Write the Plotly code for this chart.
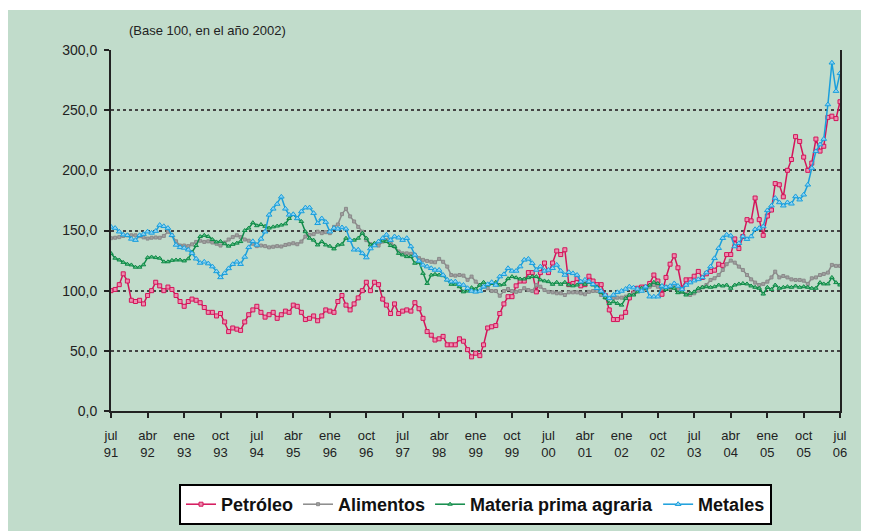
import pandas as pd
import plotly.graph_objects as go

# Monthly index, jul 1991 .. jul 2006
START_MONTH = "1991-07-01"
N_MONTHS = 181

TICK_LABELS = ["jul<br>91", "abr<br>92", "ene<br>93", "oct<br>93", "jul<br>94", "abr<br>95",
               "ene<br>96", "oct<br>96", "jul<br>97", "abr<br>98", "ene<br>99", "oct<br>99",
               "jul<br>00", "abr<br>01", "ene<br>02", "oct<br>02", "jul<br>03", "abr<br>04",
               "ene<br>05", "oct<br>05", "jul<br>06"]

Y_TICKS = [0, 50, 100, 150, 200, 250, 300]
Y_TICK_LABELS = ["0,0", "50,0", "100,0", "150,0", "200,0", "250,0", "300,0"]

PETROLEO = [100, 101, 105, 114, 108, 92, 91, 92, 89, 96, 100, 107, 104, 100, 103, 101, 96, 91, 87, 91,
            93, 92, 90, 86, 82, 82, 79, 81, 74, 66, 69, 68, 67, 74, 80, 84, 87, 82, 78, 80,
            82, 77, 80, 83, 82, 88, 87,
            82, 76, 77, 79, 75, 79, 84, 83, 82, 91, 96, 88, 84, 89, 94, 100, 107, 100, 107, 105,
            93, 88, 81, 89, 81, 83, 84, 83, 90, 85, 77, 66, 63, 59, 60, 62, 55, 55, 55, 60,
            58, 51, 45, 48, 46, 55,
            69, 70, 71, 81, 89, 95, 95, 104, 108, 108, 115, 115, 99, 115, 123, 115, 123, 133, 130, 134,
            105, 106, 110, 104, 105, 112, 108, 105, 105, 96, 84, 76, 76, 78, 82, 94, 98, 102, 103, 103,
            106, 113, 108,
            97, 111, 122, 129, 119, 102, 109, 109, 112, 116, 111, 114, 116, 117, 122, 121, 130, 130, 143, 135,
            145, 159, 158, 177, 159, 146, 162, 167, 189, 188, 178, 200, 209, 228, 224, 211, 200, 206, 226, 216,
            220, 244, 245, 243, 257]

ALIMENTOS = [143.6, 144, 144.5, 145.5, 146, 146, 146, 145.3, 144.3, 143.3, 144, 144.2, 144, 145.5, 149,
             146, 141, 137.5, 137.5, 137, 138.5, 140.5, 141.5, 140.5, 141, 140, 139, 137.5, 140, 142.5,
             144.5, 146, 144.5, 142.5, 141.5, 139, 137, 137.5, 137, 136, 136.5, 137, 136.7, 138, 138.6,
             139.4, 138.6,
             140.8, 145, 146.4, 147, 149, 147.8, 148.6, 147.8, 153, 155, 163.6, 168, 161.7, 157.5, 153,
             149, 142, 138.6, 138.6, 137.5, 140.8, 142, 140.8, 136.7, 132.5, 131, 131, 130.6, 129.7, 127,
             125.6, 124.7, 124, 123.6, 126.4, 124, 120, 113, 112.5, 113, 112.5, 109, 111.7, 107.5,
             104.7, 103.3, 102, 99.7, 99.7, 95.8, 99.7, 101.4, 99.7, 99, 99.7, 102, 100.5, 99.7, 104.7,
             103.3, 100.5, 99, 98.6, 97.8, 97.8, 96.4, 98.6, 98.6, 98.6, 97.8, 97, 99, 99.7, 99.7,
             96.4, 94.2, 93.6, 93.6, 94.2, 94.2, 95, 96.4, 97.8, 99.7, 102, 101.4, 103.3, 104.7, 103.3,
             102, 103.3, 102, 102.8, 101, 99, 97.2, 96.4, 97.8, 100, 102.8, 104.7, 108.9, 110.3, 113,
             117.2, 122, 125, 123.3, 120, 117.2, 113, 109.4, 106.7, 104.7, 105.6, 107.5, 111, 115.8, 111,
             112.2, 111, 109.4, 108.9, 108.9, 108.3, 105.6, 110.3, 111, 113, 113.9, 115, 121.4, 120.6, 120.6]

MATERIA_PRIMA = [131, 127, 125.5, 123.5, 122, 121.4, 119.5, 119.5, 121.5, 127.5, 128, 127.5, 127, 124, 124,
                 125.2, 125.5, 125.5, 124.7, 126.5, 132, 137.5, 145, 146, 145, 142.5, 140.5, 141, 139, 137,
                 138.5, 139.5, 140.8, 150, 152, 156.5, 154, 155, 153.5, 152, 153, 153.7, 154.5, 155.5, 160,
                 163.3, 160,
                 157.5, 149, 143.6, 142, 138, 140.8, 138, 137, 134.7, 138, 138.6, 143.6, 142, 142, 143.6,
                 147.8, 143.6, 138, 139.4, 140.8, 141.4, 140.8, 137.5, 136.7, 131, 129.7, 128.3, 128.3, 122.8,
                 123.6, 114.4, 106, 113, 113.6, 113, 112.5, 109, 105.3, 105.3, 103.3, 99, 99.7, 102.5, 101.4,
                 104.7,
                 107, 104.7, 106, 107, 104.7, 105.3, 110, 111.7, 110.8, 109.7, 109.7, 110.8, 111.7, 111.7, 109,
                 108.1, 107.5, 105.3, 107, 105.3, 107, 104.7, 104, 104.7, 107, 105.3, 107, 104.7, 103.3, 98.6,
                 94.2, 89.4, 90.8, 89.4, 88, 93.6, 96.4, 96.4, 99, 102, 102, 104.7, 107, 106,
                 103.3, 101, 102.8, 102, 98.3, 99, 96.4, 97.8, 99, 102, 102.8, 103.3, 102.8, 103.3, 104.7,
                 103.9, 104.7, 102, 104.7, 105.6, 106, 105.6, 103.9, 102.8, 102, 97.2, 102.8, 101, 104.7, 102,
                 102.8, 103.3, 102.8, 103.9, 102.8, 103.3, 102.8, 102, 102, 106.7, 105.6, 105.6, 111, 106.7, 104.7]

METALES = [153, 152, 149, 146.5, 146, 143, 142, 146, 147, 149, 148, 149.5, 154.5, 153.5, 152,
           146, 138, 136, 135.5, 134, 131, 126.5, 123, 124, 122.5, 120, 116, 111, 114.5, 118.5,
           122, 124, 122, 128, 136, 141, 138, 143, 149, 163, 168, 172, 178, 168, 163, 163.5, 160,
           165.8, 169, 169, 164.4, 156, 160, 157, 149, 152, 151.4, 152.5, 151.4, 142, 134, 134,
           131, 127.5, 135, 137.5, 140.8, 143.6, 146.4, 142, 145, 144, 142, 143.6, 136.7, 129.7, 124.7,
           121.4, 120, 118.6, 117.2, 117.2, 113, 109, 107.5, 107.5, 105.3, 104.7, 102, 99.7, 99, 99.7,
           103.3, 105.3, 107, 104.7, 111.7, 113.6, 118.6, 116.4, 116.4, 120, 125.6, 126.4, 122.8, 117.2, 120,
           116.4, 117.2, 118.6, 121.4, 116.4, 113, 115.3, 114.4, 113, 107.5, 109, 107.5, 105.3, 102, 99.7,
           96.4, 93.6, 96.4, 98.6, 99.7, 101.4, 103.3, 102.5, 101.4, 99.7, 103.3, 95, 95, 95,
           103.9, 102.8, 103.9, 106, 103.9, 101, 104.7, 106.7, 108.3, 109.4, 111, 115, 120, 126.9, 135.3,
           143.6, 146.4, 145.6, 136.7, 139.4, 145, 142.8, 145, 151, 152, 153.3, 166.7, 170.6, 177, 173.3,
           170.6, 173.3, 172.2, 178.3, 175.6, 179.7, 188, 201.9, 215.8, 221.4, 226, 254.7, 289.4, 265.8, 280.6]

dates = pd.date_range(START_MONTH, periods=N_MONTHS, freq="MS")
tick_dates = list(dates[::9])

BG = "#c1dccb"
FONT = "Liberation Sans, Arial, sans-serif"

series = [
    ("Petróleo", PETROLEO, "#d4145a", "#ec8fb0", "square", 4),
    ("Alimentos", ALIMENTOS, "#8a8a8a", "#a0a0a0", "square", 3),
    ("Materia prima agraria", MATERIA_PRIMA, "#0f8a48", "#5fbf86", "triangle-up", 4),
    ("Metales", METALES, "#1a9fdc", "#8fd3f2", "triangle-up", 5),
]

fig = go.Figure()
for name, vals, col, fill, sym, size in series:
    fig.add_trace(go.Scatter(
        x=dates, y=vals, name=name, mode="lines+markers",
        line=dict(color=col, width=1.5),
        marker=dict(symbol=sym, size=size, color=fill, line=dict(color=col, width=1)),
    ))

# Figure sits 8px into the page (body margin); plot area at page x 111..840, y 50..411
W, H = 861, 523
L, R, T, B = 103, 29, 42, 120
PH = H - T - B

fig.update_layout(
    width=W, height=H,
    margin=dict(l=L, r=R, t=T, b=B, autoexpand=False),
    paper_bgcolor=BG, plot_bgcolor=BG,
    font=dict(family=FONT, color="#222222"),
    showlegend=True,
    legend=dict(orientation="h", x=0.5, xanchor="center", y=(PH - 476 + T) / PH, yanchor="top",
                bgcolor="white", bordercolor="black", borderwidth=2,
                font=dict(size=18, family=FONT, color="#111111", weight="bold"),
                itemsizing="trace", tracegroupgap=0),
    shapes=[
        dict(type="rect", xref="paper", yref="paper", x0=-0.2, x1=1.1,
             y0=(PH + T - 2) / PH, y1=(PH + T + 5) / PH, fillcolor="white",
             line=dict(width=0), layer="below"),
    ],
    annotations=[
        dict(text="(Base 100, en el año 2002)", xref="paper", yref="paper",
             x=(119 - L) / 729, y=(PH + T - 22) / PH, xanchor="left", yanchor="middle",
             showarrow=False, font=dict(size=13, color="#222222")),
    ],
)

fig.update_xaxes(
    range=[dates[0], dates[-1]],
    tickvals=tick_dates, ticktext=TICK_LABELS,
    showgrid=False, zeroline=False, automargin=False,
    showline=True, linecolor="#222222", linewidth=2,
    ticks="outside", ticklen=5, tickwidth=1.5, tickcolor="#222222",
    tickfont=dict(size=13, color="#222222"), ticklabelstandoff=6,
)
fig.update_yaxes(
    range=[0, 300], tickvals=Y_TICKS, ticktext=Y_TICK_LABELS,
    showgrid=True, gridcolor="#444444", gridwidth=1.5, griddash="dot",
    zeroline=False, automargin=False,
    showline=True, mirror=True, linecolor="#222222", linewidth=2,
    ticks="outside", ticklen=5, tickwidth=1.5, tickcolor="#222222",
    tickfont=dict(size=14, color="#222222"), ticklabelstandoff=4,
)

fig.write_html("out.html")
